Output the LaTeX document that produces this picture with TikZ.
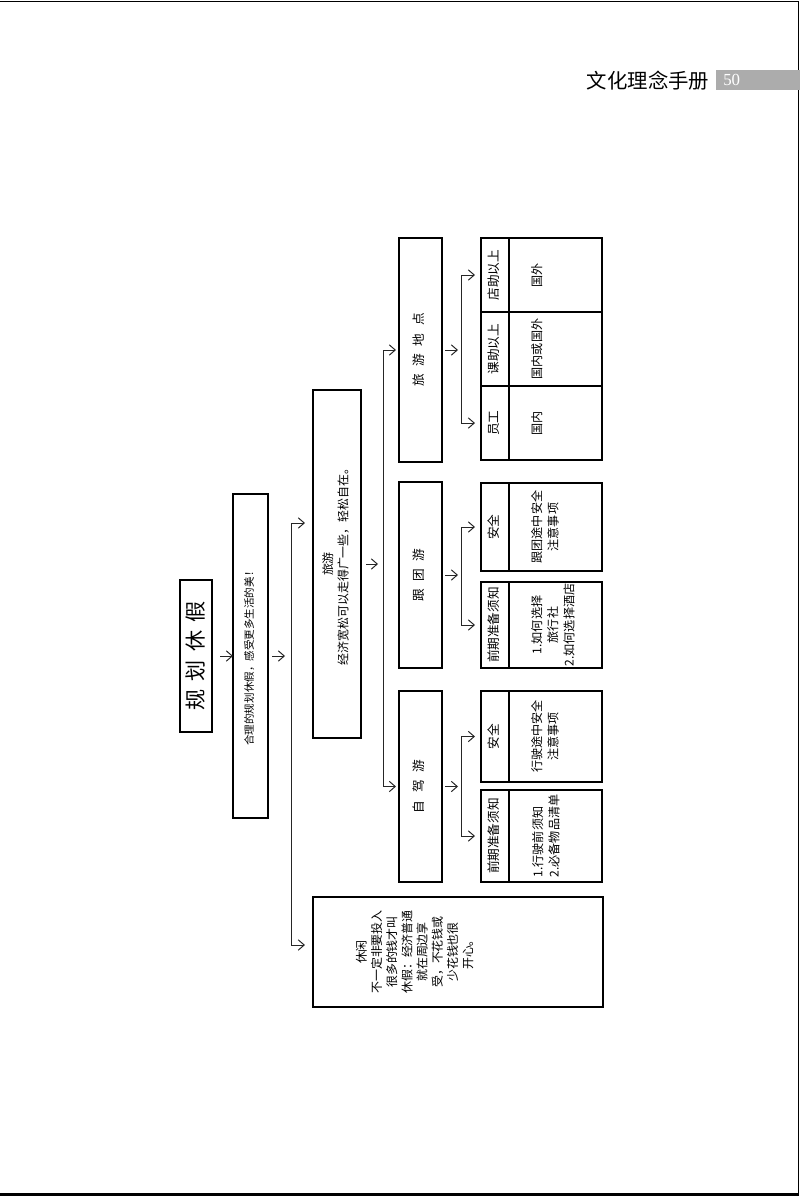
\documentclass[tikz,border=0pt]{standalone}
\usepackage{fontspec}
\usepackage{graphicx}
\setmainfont{Liberation Serif}
\newfontfamily\cjk{Noto Sans CJK SC}
\usetikzlibrary{arrows.meta,positioning}
\newcommand{\cgap}{\hspace{0.6em}}
\newcommand{\vtext}[1]{\rotatebox{90}{\begin{tabular}{@{}c@{}}#1\end{tabular}}}
\newcommand{\toptext}[4]{\rotatebox{90}{\parbox[c][#2][t]{#1}{\centering\vspace*{#3}#4}}}

\begin{document}
\begin{tikzpicture}[
  x=0.025cm,y=-0.025cm,
  font=\cjk\fontsize{8.5}{10.8}\selectfont,
  >={Straight Barb[length=1.5mm,width=2.6mm]},
  box/.style={draw,line width=0.8pt,inner sep=0pt,outer sep=0pt},
  cell/.style={box,font=\cjk\fontsize{9}{11.5}\selectfont},
  narrow/.style={cell,minimum width=0.7cm},
  wide/.style={cell,minimum width=2.325cm,font=\cjk\fontsize{8.6}{11.5}\selectfont},
  flow/.style={->,line width=0.7pt,black!85},
  node distance=0pt,
]
\useasboundingbox (0,0) rectangle (800,1196);
% ---- page frame and header ----
\draw[line width=0.6pt] (0,1.5) -- (798.5,1.5) -- (798.5,1194);
\draw[line width=1.6pt] (0,1194.5) -- (798.5,1194.5);
\node[inner sep=0pt,font=\cjk\fontsize{14.5}{16}\selectfont] (hdr) at (648,81) {文化理念手册};
\node[anchor=west,fill=gray!65,text=white,font=\fontsize{12}{12}\selectfont,minimum height=0.5cm,inner ysep=0pt,inner xsep=0.175cm,text width=1.75cm] (pgno) at (716,80) {50};
% ---- title and first level ----
\node[box,minimum width=0.8cm,minimum height=3.8cm,font=\cjk\fontsize{15}{18}\selectfont] (title) at (196,656) {\rotatebox{90}{规\hspace{0.4em}划\hspace{0.4em}休\hspace{0.4em}假}};
\node[box,minimum width=0.875cm,minimum height=8.1cm,font=\cjk\fontsize{7.5}{9}\selectfont] (plan) at (250.5,656) {\vtext{合理的规划休假，感受更多生活的美！}};
\node[box,minimum width=1.2cm,minimum height=8.7cm] (travel) at (337,564) {\vtext{旅游\\经济宽松可以走得广一些，轻松自在。}};
\node[box,minimum width=7.25cm,minimum height=2.75cm] (leisure) at (458,952) {\toptext{2.7cm}{7.2cm}{1.05cm}{休闲\\不一定非要投入\\很多的钱才叫\\休假：经济普通\\就在周边享\\受，不花钱或\\少花钱也很\\开心。}};
% ---- travel types ----
\node[cell,minimum width=1.075cm,minimum height=5.6cm] (dest) at (420.5,350) {\vtext{旅\cgap 游\cgap 地\cgap 点}};
\node[cell,minimum width=1.075cm,minimum height=4.65cm] (group) at (420.5,575) {\vtext{跟\cgap 团\cgap 游}};
\node[cell,minimum width=1.075cm,minimum height=4.775cm] (drive) at (420.5,786.5) {\vtext{自\cgap 驾\cgap 游}};
% ---- destination table ----
\node[narrow,minimum height=1.85cm] (d1a) at (495,275) {\vtext{店助以上}};
\node[wide,minimum height=1.85cm,right=of d1a] (d1b) {\toptext{1.8cm}{2.3cm}{0.54cm}{国外}};
\node[narrow,minimum height=1.85cm,below=of d1a] (d2a) {\vtext{课助以上}};
\node[wide,minimum height=1.85cm,right=of d2a] (d2b) {\toptext{1.8cm}{2.3cm}{0.54cm}{国内或国外}};
\node[narrow,minimum height=1.85cm,below=of d2a] (d3a) {\vtext{员工}};
\node[wide,minimum height=1.85cm,right=of d3a] (d3b) {\toptext{1.8cm}{2.3cm}{0.54cm}{国内}};
% ---- group tour ----
\node[narrow,minimum height=2.2cm] (g1a) at (495,527) {\vtext{安全}};
\node[wide,minimum height=2.2cm,right=of g1a] (g1b) {\toptext{2.1cm}{2.3cm}{0.54cm}{跟团途中安全\\注意事项}};
\node[narrow,minimum height=2.15cm] (g2a) at (495,625) {\vtext{前期准备须知}};
\node[wide,minimum height=2.15cm,right=of g2a] (g2b) {\toptext{2.1cm}{2.3cm}{0.54cm}{1.如何选择\\旅行社\\2.如何选择酒店}};
% ---- self-drive ----
\node[narrow,minimum height=2.275cm] (s1a) at (495,736.5) {\vtext{安全}};
\node[wide,minimum height=2.275cm,right=of s1a] (s1b) {\toptext{2.1cm}{2.3cm}{0.54cm}{行驶途中安全\\注意事项}};
\node[narrow,minimum height=2.3cm] (s2a) at (495,836) {\vtext{前期准备须知}};
\node[wide,minimum height=2.3cm,right=of s2a] (s2b) {\toptext{2.1cm}{2.3cm}{0.54cm}{\begin{tabular}{@{}l@{}}1.行驶前须知\\2.必备物品清单\end{tabular}}};
% ---- junction points of the brackets ----
\coordinate[right=0.575cm of plan.east] (j1);
\coordinate[right=0.55cm of travel.east] (j2);
\coordinate[right=0.475cm of dest.east] (j3);
\coordinate[right=0.475cm of group.east] (j4);
\coordinate[right=0.475cm of drive.east] (j5);
% ---- connectors ----
\draw[flow] ([xshift=0.2cm]title.east) -- (plan.west);
\draw[flow] ([xshift=0.1cm]plan.east) -- ([xshift=-0.15cm]j1);
\draw[flow] (j1) |- ([xshift=-0.2cm,yshift=1.025cm]travel.west);
\draw[flow] (j1) |- ([xshift=-0.2cm,yshift=0.175cm]leisure.west);
\draw[flow] ([xshift=0.125cm]travel.east) -- ([xshift=-0.125cm]j2);
\draw[flow] (j2) |- ([xshift=-0.075cm]dest.west);
\draw[flow] (j2) |- ([xshift=-0.075cm]drive.west);
\draw[flow] ([xshift=0.075cm]dest.east) -- ([xshift=-0.075cm]j3);
\draw[flow] (j3) |- ([xshift=-0.15cm]d1a.west);
\draw[flow] (j3) |- ([xshift=-0.15cm]d3a.west);
\draw[flow] ([xshift=0.075cm]group.east) -- ([xshift=-0.075cm]j4);
\draw[flow] (j4) |- ([xshift=-0.15cm]g1a.west);
\draw[flow] (j4) |- ([xshift=-0.15cm]g2a.west);
\draw[flow] ([xshift=0.075cm]drive.east) -- ([xshift=-0.075cm]j5);
\draw[flow] (j5) |- ([xshift=-0.15cm]s1a.west);
\draw[flow] (j5) |- ([xshift=-0.15cm]s2a.west);
\end{tikzpicture}
\end{document}
